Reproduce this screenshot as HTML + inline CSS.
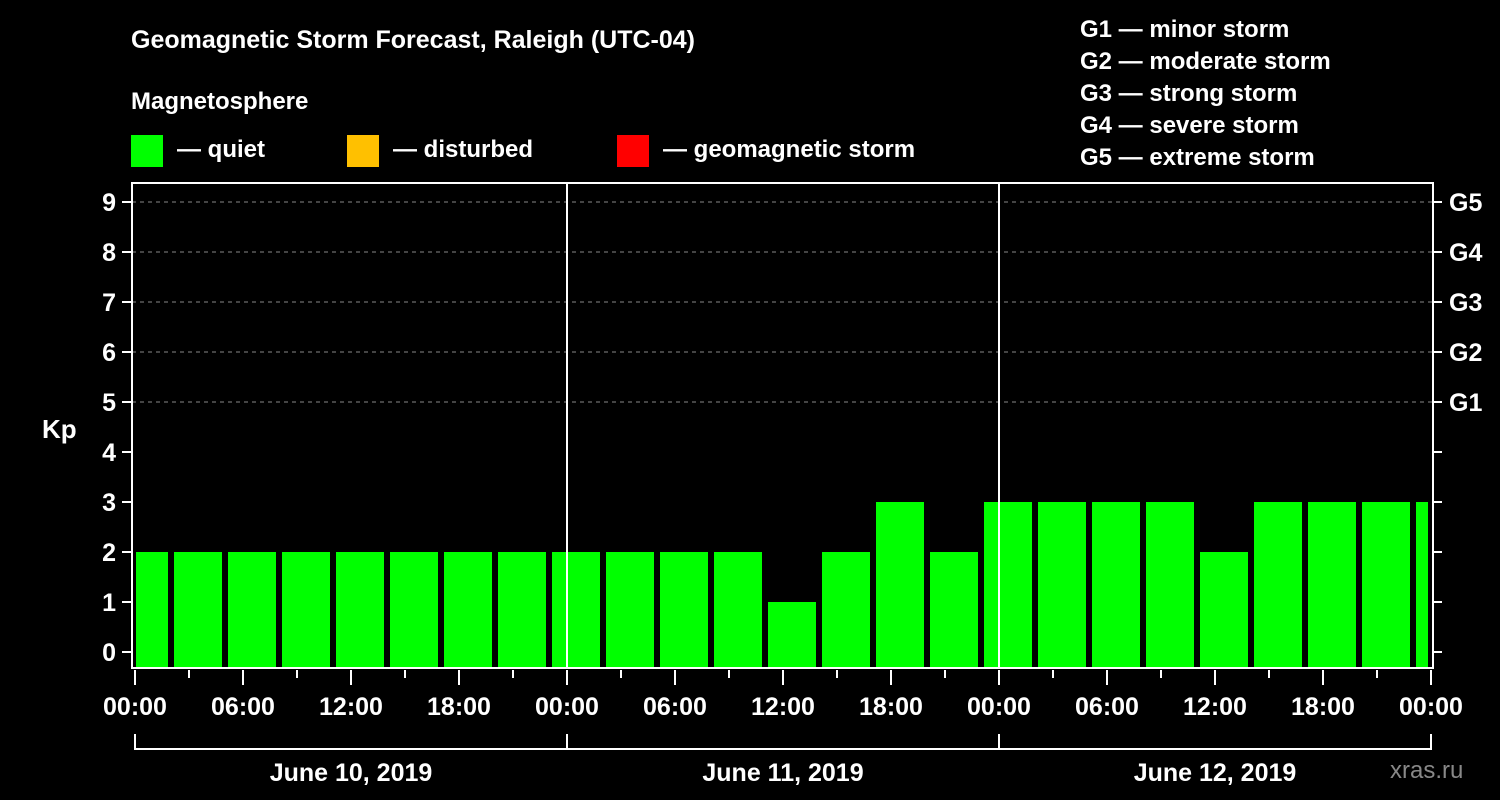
<!DOCTYPE html>
<html><head><meta charset="utf-8"><style>
body{margin:0;background:#000;}
svg{display:block;font-family:"Liberation Sans",Arial,sans-serif;font-weight:bold;}
</style></head><body>
<svg width="1500" height="800" viewBox="0 0 1500 800">
<rect width="1500" height="800" fill="#000"/>
<text x="131" y="48" fill="#fff" font-size="25">Geomagnetic Storm Forecast, Raleigh (UTC-04)</text>
<text x="131" y="109" fill="#fff" font-size="24">Magnetosphere</text>
<g><rect x="131" y="135" width="32" height="32" fill="#00ff00"/><text x="177" y="157" fill="#fff" font-size="24">— quiet</text></g>
<g><rect x="347" y="135" width="32" height="32" fill="#ffc000"/><text x="393" y="157" fill="#fff" font-size="24">— disturbed</text></g>
<g><rect x="617" y="135" width="32" height="32" fill="#ff0000"/><text x="663" y="157" fill="#fff" font-size="24">— geomagnetic storm</text></g>
<g fill="#fff" font-size="24">
<text x="1080" y="37">G1 — minor storm</text>
<text x="1080" y="69">G2 — moderate storm</text>
<text x="1080" y="101">G3 — strong storm</text>
<text x="1080" y="133">G4 — severe storm</text>
<text x="1080" y="165">G5 — extreme storm</text>
</g>
<text x="42" y="438" fill="#fff" font-size="26">Kp</text>
<text x="1390" y="778" fill="#888" font-size="24" font-weight="normal">xras.ru</text>
<g id="grid"></g>
<g id="bars"></g>
<g id="axes"></g>
</svg>
<script>
const values=[2,2,2,2,2,2,2,2,2,2,2,2,1,2,3,2,3,3,3,3,2,3,3,3,3];
const startHour=-1; // local hour of first bar start
const yTicks=[0,1,2,3,4,5,6,7,8,9];
const gLabels=["","","","","","G1","G2","G3","G4","G5"];
const xLabels=["00:00","06:00","12:00","18:00","00:00","06:00","12:00","18:00","00:00","06:00","12:00","18:00","00:00"];
const days=["June 10, 2019","June 11, 2019","June 12, 2019"];
const NS="http://www.w3.org/2000/svg";
const X0=135,PXH=18,Y0=652,PXK=50,L=132,R=1433,T=183,B=668;
const xs=h=>X0+h*PXH, ys=k=>Y0-k*PXK;
function mk(p,t,a){const e=document.createElementNS(NS,t);for(const k in a)e.setAttribute(k,a[k]);p.appendChild(e);return e;}
const grid=document.getElementById('grid'),bars=document.getElementById('bars'),ax=document.getElementById('axes');
yTicks.forEach(k=>{if(k>=5){const l=mk(grid,'line',{x1:L,x2:R,y1:ys(k),y2:ys(k),stroke:'#888','stroke-dasharray':'4,4','stroke-width':1});

}});
values.forEach((v,i)=>{const h0=startHour+i*3;let x1=xs(h0)+3,x2=xs(h0+3)-3;x1=Math.max(x1,L+4);x2=Math.min(x2,R-5);
const c=v>=5?'#ff0000':(v>=4?'#ffc000':'#00ff00');
const r=mk(bars,'rect',{x:x1,y:ys(v),width:x2-x1,height:B-ys(v),fill:c});

});
[1,2].forEach(d=>{const l=mk(ax,'line',{x1:xs(24*d),x2:xs(24*d),y1:T,y2:B,stroke:'#fff','stroke-width':2});

});
const fr=mk(ax,'rect',{x:L,y:T,width:R-L,height:B-T,fill:'none',stroke:'#fff','stroke-width':2});


yTicks.forEach((k,i)=>{mk(ax,'line',{x1:L-10,x2:L,y1:ys(k),y2:ys(k),stroke:'#fff','stroke-width':2});
mk(ax,'line',{x1:R,x2:R+9,y1:ys(k),y2:ys(k),stroke:'#fff','stroke-width':2});
const t=mk(ax,'text',{x:L-16,y:ys(k)+9,fill:'#fff','font-size':25,'text-anchor':'end'});t.textContent=k;


if(gLabels[i]){const g=mk(ax,'text',{x:R+16,y:ys(k)+9,fill:'#fff','font-size':25});g.textContent=gLabels[i];

}});
for(let h=0;h<=72;h+=3){mk(ax,'line',{x1:xs(h),x2:xs(h),y1:B+2,y2:B+(h%6===0?17:10),stroke:'#fff','stroke-width':2});}
xLabels.forEach((s,i)=>{const t=mk(ax,'text',{x:xs(i*6),y:715,fill:'#fff','font-size':25,'text-anchor':'middle'});t.textContent=s;

});
mk(ax,'line',{x1:xs(0),x2:xs(72),y1:749,y2:749,stroke:'#fff','stroke-width':2});
for(let d=0;d<=3;d++)mk(ax,'line',{x1:xs(24*d),x2:xs(24*d),y1:734,y2:750,stroke:'#fff','stroke-width':2});
days.forEach((s,i)=>{const t=mk(ax,'text',{x:xs(24*i+12),y:781,fill:'#fff','font-size':25,'text-anchor':'middle'});t.textContent=s;

});
</script>
</body></html>
